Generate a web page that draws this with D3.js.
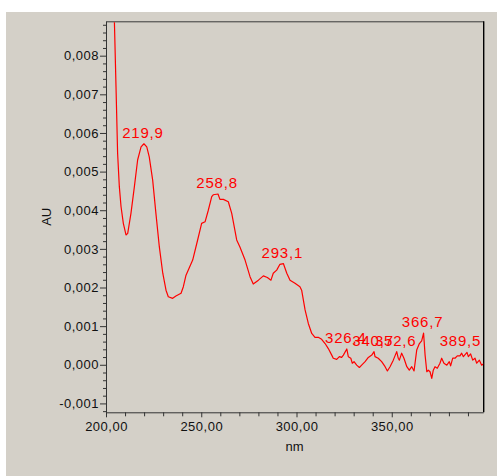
<!DOCTYPE html>
<html>
<head>
<meta charset="utf-8">
<script src="https://cdn.jsdelivr.net/npm/d3@7"></script>
<style>
  body { margin: 0; background: #fff; }
  svg { display: block; }
  text { font-family: "Liberation Sans", Arial, sans-serif; }
</style>
</head>
<body>
<div id="vis-spectrum"></div>
<script>
(function () {

  // Spectrum (nm / AU x 0.001)
  const wavelength = [203.5, 204.4, 205.25, 206.1, 207.0, 207.9, 209.1, 210.5, 211.4, 213.1,
    214.9, 216.6, 218.4, 219.9, 221.4, 222.7, 224.5, 226.2, 228.0, 229.8, 231.5, 232.7, 235.0,
    236.7, 239.4, 240.6, 242.0, 245.5, 248.1, 250.2, 252.0, 253.7, 255.5, 256.3, 258.8, 259.8,
    261.6, 264.2, 266.0, 268.6, 270.3, 273.0, 275.6, 277.3, 280.0, 282.6, 284.7, 286.6, 287.8,
    289.6, 291.3, 293.1, 294.9, 296.6, 299.2, 301.8, 302.7, 304.5, 306.2, 308.0, 309.7, 311.4,
    313.2, 315.0, 316.7, 318.5, 319.3, 321.1, 322.5, 323.7, 324.6, 326.4, 327.2, 328.5, 329.3,
    330.2, 331.6, 333.0, 334.2, 336.0, 337.7, 339.5, 340.7, 341.2, 342.9, 344.7, 346.5, 347.7,
    349.1, 350.8, 352.6, 353.4, 354.0, 355.2, 356.4, 357.9, 359.2, 360.5, 361.7, 363.1, 364.5,
    365.7, 366.7, 367.5, 368.4, 369.2, 370.1, 371.0, 371.8, 372.7, 373.9, 375.3, 376.2, 377.4,
    378.9, 380.2, 380.9, 382.0, 383.2, 384.4, 385.8, 386.7, 387.6, 389.5, 390.2, 391.4, 392.5,
    393.7, 394.6, 396.0, 397.2, 398.6];
  const absorbance = [10.5, 8.9, 7.20, 5.47, 4.61, 4.09, 3.66, 3.36, 3.40, 3.92,
    4.61, 5.30, 5.64, 5.72, 5.64, 5.38, 4.78, 3.92, 3.05, 2.37, 1.93, 1.76, 1.72,
    1.78, 1.85, 2.02, 2.32, 2.71, 3.23, 3.66, 3.70, 4.00, 4.35, 4.40, 4.42, 4.28,
    4.28, 4.22, 3.92, 3.23, 3.05, 2.71, 2.28, 2.09, 2.19, 2.30, 2.26, 2.19, 2.37,
    2.45, 2.60, 2.62, 2.37, 2.19, 2.11, 2.02, 1.93, 1.42, 1.07, 0.81, 0.71, 0.71,
    0.66, 0.55, 0.42, 0.25, 0.17, 0.14, 0.21, 0.19, 0.25, 0.41, 0.21, 0.17, 0.04,
    0.08, -0.01, -0.07, -0.01, 0.08, 0.19, 0.25, 0.34, 0.21, 0.17, 0.08, -0.05, -0.16,
    -0.05, 0.12, 0.34, 0.17, 0.12, 0.30, 0.17, -0.05, -0.14, -0.05, -0.16, 0.38, 0.55,
    0.62, 0.82, 0.25, -0.18, -0.14, -0.18, -0.35, -0.14, -0.05, -0.09, 0.04, 0.17, 0.04,
    -0.01, 0.08, -0.03, 0.17, 0.17, 0.23, 0.23, 0.30, 0.21, 0.32, 0.21, 0.28, 0.12,
    0.17, 0.04, 0.12, -0.01, 0.04];

  const peaks = [219.9, 258.8, 293.1, 326.4, 340.7, 352.6, 366.7, 389.5];
  const xTicks = [200, 250, 300, 350];
  const yTicks = [-0.001, 0, 0.001, 0.002, 0.003, 0.004, 0.005, 0.006, 0.007, 0.008];

  const data = wavelength.map((w, i) => ({ nm: w, au: absorbance[i] / 1000 }));

  const locale = d3.formatLocale({ decimal: ",", thousands: ".", grouping: [3], currency: ["", ""], minus: "-" });

  const W = 497, H = 476;
  const left = 106, right = 483.2, top = 21.3, bottom = 412.3;

  const svg = d3.select("#vis-spectrum")
    .append("svg")
    .attr("width", W)
    .attr("height", H);

  // grey panel
  svg.append("rect")
    .attr("x", 6).attr("y", 12)
    .attr("width", W - 6).attr("height", H - 12)
    .attr("fill", "#d4d0c8");

  const x = d3.scaleLinear().domain([200, 398]).range([left, right]);
  const y = d3.scaleLinear().domain([-0.00123, 0.00889]).range([bottom, top]);

  // frame
  svg.append("line")
    .attr("x1", left).attr("x2", right + 0.5)
    .attr("y1", top + 0.5).attr("y2", top + 0.5)
    .attr("stroke", "#3a3a3a");
  svg.append("line")
    .attr("x1", right + 0.5).attr("x2", right + 0.5)
    .attr("y1", top).attr("y2", bottom)
    .attr("stroke", "#000").attr("stroke-width", 1.4);

  // minor ticks
  const yMinor = d3.range(-6, 45).map(i => i * 0.0002).filter(v => Math.abs(Math.round(v * 1000) - v * 1000) > 1e-6);
  svg.append("g")
    .attr("transform", `translate(${left},0)`)
    .call(d3.axisLeft(y).tickValues(yMinor).tickSize(3).tickFormat("").tickSizeOuter(0))
    .call(g => g.select(".domain").remove());

  const xMinor = d3.range(210, 400, 10).filter(v => v % 50 !== 0);
  svg.append("g")
    .attr("transform", `translate(0,${bottom})`)
    .call(d3.axisBottom(x).tickValues(xMinor).tickSize(4).tickFormat("").tickSizeOuter(0))
    .call(g => g.select(".domain").remove());

  // main axes
  const yAxis = svg.append("g")
    .attr("transform", `translate(${left},0)`)
    .call(d3.axisLeft(y).tickValues(yTicks).tickFormat(locale.format(".3f")).tickSize(6).tickPadding(1).tickSizeOuter(0));

  const xAxis = svg.append("g")
    .attr("transform", `translate(0,${bottom})`)
    .call(d3.axisBottom(x).tickValues(xTicks).tickFormat(locale.format(".2f")).tickSize(5).tickPadding(4).tickSizeOuter(0));

  svg.selectAll(".tick line, .domain").attr("stroke", "#333");
  [yAxis, xAxis].forEach(g => g.selectAll("text")
    .attr("fill", "#111")
    .style("font-size", "13px")
    .style("letter-spacing", "0.5px")
    .style("font-family", "'Liberation Sans', Arial, sans-serif"));

  // curve
  svg.append("clipPath").attr("id", "plot-clip")
    .append("rect")
    .attr("x", left + 1).attr("y", top + 1)
    .attr("width", right - left - 1).attr("height", bottom - top - 1);

  const line = d3.line()
    .x(d => x(d.nm))
    .y(d => y(d.au));

  svg.append("path")
    .datum(data)
    .attr("clip-path", "url(#plot-clip)")
    .attr("fill", "none")
    .attr("stroke", "#ff0000")
    .attr("stroke-width", 1.2)
    .attr("stroke-linejoin", "round")
    .attr("d", line);

  // peak labels
  const fmtPeak = locale.format(".1f");
  peaks.forEach(p => {
    const d = data.find(e => Math.abs(e.nm - p) < 1e-6);
    const t = svg.append("text")
      .attr("text-anchor", "middle")
      .attr("y", y(d.au) - 6)
      .attr("fill", "#ff0000")
      .style("font-size", "15px")
      .style("letter-spacing", "0.8px")
      .text(fmtPeak(p));
    const w = t.node().getComputedTextLength();
    const cx = Math.min(x(p) - 1, right - 2 - w / 2);
    t.attr("x", cx);
  });

  // axis titles
  svg.append("text")
    .attr("transform", `translate(50.5,${(top + bottom) / 2}) rotate(-90)`)
    .attr("text-anchor", "middle")
    .attr("fill", "#111")
    .style("font-size", "13px")
    .text("AU");

  svg.append("text")
    .attr("x", (left + right) / 2)
    .attr("y", 450.7)
    .attr("text-anchor", "middle")
    .attr("fill", "#111")
    .style("font-size", "13px")
    .text("nm");

})();
</script>
</body>
</html>
